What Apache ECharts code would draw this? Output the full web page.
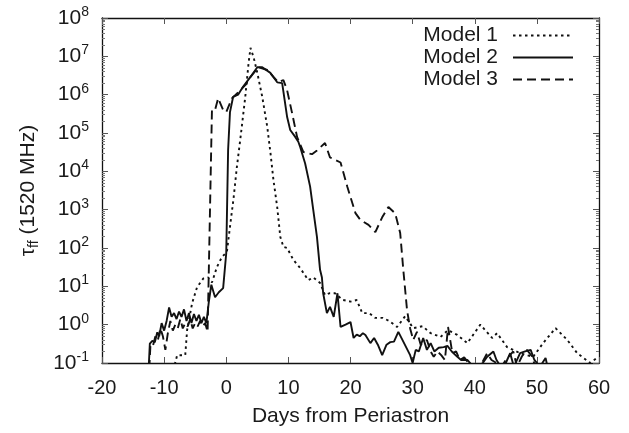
<!DOCTYPE html>
<html>
<head>
<meta charset="utf-8">
<script src="https://cdn.jsdelivr.net/npm/echarts@6/dist/echarts.min.js"></script>
<style>html,body{margin:0;padding:0;background:#fff}#c{width:629px;height:433px}</style>
</head>
<body>
<div id="c"></div>
<script>
// ---- data ----
const seriesNames = ['Model 1', 'Model 2', 'Model 3'];
const xTicks = [-20, -10, 0, 10, 20, 30, 40, 50, 60];
const yTickExponents = [-1, 0, 1, 2, 3, 4, 5, 6, 7, 8];

const m1Days = [-9, -7.9, -6.6, -6.3, -5.5, -4.7, -3.7, -2.9, -2.3, -1.5, -0.7, 0.1, 0.6, 1.2, 1.7, 2.25, 3.06, 3.6, 3.9, 4.4, 5.0, 5.8, 6.6, 7.1, 7.6, 8.2, 8.7, 9.2, 9.8, 10.8, 11.9, 13.2, 14.0, 15.1, 15.9, 16.6, 17.5, 18.0, 18.8, 20.0, 21.0, 21.9, 23.0, 24.0, 25.2, 26.2, 27.5, 28.8, 30.1, 31.6, 32.9, 34.5, 35.7, 37.2, 38.8, 40.9, 42.8, 43.6, 45.2, 47.3, 49.4, 51.0, 53.0, 54.9, 56.5, 58.6, 59.9];
const m1Vals = [0.032, 0.16, 0.16, 0.72, 3.6, 9.5, 16, 17, 12.6, 32, 58, 79, 355, 2140, 12600, 66000, 870000, 6.8e6, 1.66e7, 9.5e6, 3.7e6, 870000, 145000, 32000, 5900, 1170, 195, 107, 100, 49, 30, 14.5, 17, 12.3, 5.9, 6.6, 6.6, 5.6, 4.4, 4.0, 4.4, 2.0, 2.0, 1.5, 1.5, 1.26, 0.87, 1.66, 0.81, 0.91, 0.6, 0.48, 0.72, 0.54, 0.33, 1.0, 0.45, 0.6, 0.26, 0.18, 0.145, 0.33, 0.81, 0.4, 0.18, 0.1, 0.145];

const m2Days = [-12.6, -12.3, -11.9, -11.5, -11.1, -10.8, -10.4, -10.0, -9.6, -9.2, -8.8, -8.4, -8.0, -7.6, -7.2, -6.8, -6.4, -6.0, -5.6, -5.2, -4.8, -4.4, -4.0, -3.6, -3.2, -2.8, -2.4, -1.8, -1.2, -0.5, 0.0, 0.3, 0.6, 1.1, 1.9, 2.7, 3.9, 5.0, 5.8, 7.1, 8.2, 9.0, 9.8, 10.3, 11.1, 11.6, 11.9, 12.7, 13.5, 14.0, 14.6, 15.1, 15.4, 15.6, 16.2, 16.7, 17.3, 17.9, 18.4, 19.2, 20.0, 20.5, 21.0, 21.5, 22.0, 22.4, 23.2, 23.8, 24.4, 25.1, 25.8, 26.4, 27.0, 27.7, 28.5, 29.6, 30.0, 30.5, 31.0, 31.7, 32.3, 32.9, 33.5, 34.2, 35.0, 35.6, 36.3, 37.2, 37.8, 38.8, 39.5, 40.5, 41.3, 42.0, 43.0, 43.5, 44.2, 45.0, 45.7, 46.3, 47.3, 48.1, 49.0, 49.6, 50.5, 51.4, 52.0];
const m2Vals = [0.03, 0.32, 0.38, 0.35, 0.63, 0.5, 1.1, 0.7, 1.25, 2.8, 1.6, 2.0, 1.4, 2.2, 1.6, 2.5, 1.25, 2.0, 1.1, 1.9, 1.25, 1.8, 1.1, 1.6, 1.1, 4.0, 11, 5.2, 7, 9, 74, 36000, 350000, 870000, 1.0e6, 1.6e6, 2.9e6, 5.2e6, 5.2e6, 3.7e6, 2.1e6, 2.0e6, 260000, 120000, 79000, 59000, 43000, 16000, 4000, 1000, 195, 27, 17, 6.6, 2.0, 2.9, 1.6, 6.6, 0.87, 1.0, 1.17, 0.45, 0.55, 0.5, 0.6, 0.54, 0.33, 0.45, 0.3, 0.16, 0.3, 0.35, 0.36, 0.65, 0.36, 0.16, 0.1, 0.22, 0.2, 0.45, 0.22, 0.33, 0.2, 0.25, 0.26, 0.28, 0.2, 0.145, 0.12, 0.12, 0.09, 0.08, 0.1, 0.145, 0.2, 0.12, 0.08, 0.1, 0.18, 0.08, 0.18, 0.2, 0.22, 0.12, 0.08, 0.135, 0.05];

const m3Days = [-12.5, -12.2, -11.8, -11.4, -11.0, -10.6, -10.2, -9.8, -9.4, -9.0, -8.6, -8.2, -7.8, -7.4, -7.0, -6.6, -6.2, -5.8, -5.4, -5.0, -4.6, -4.2, -3.8, -3.4, -3.0, -2.8, -2.3, -1.8, -1.3, -0.5, 0.0, 0.9, 2.25, 3.1, 3.9, 5.2, 6.6, 7.6, 8.4, 9.2, 9.8, 10.6, 11.4, 12.4, 13.8, 14.6, 15.9, 16.7, 18.4, 19.5, 20.8, 21.6, 22.9, 24.0, 25.1, 26.1, 27.2, 28.0, 28.5, 29.1, 29.6, 30.1, 30.7, 31.3, 32.3, 32.9, 33.4, 34.0, 34.6, 35.2, 35.7, 36.4, 37.0, 37.6, 38.3, 39.0, 40.0, 41.0, 42.0, 42.7, 43.5, 44.3, 45.0, 46.2, 46.8, 47.6, 48.4, 49.2, 50.0];
const m3Vals = [0.03, 0.3, 0.28, 0.5, 0.4, 0.8, 0.5, 0.22, 0.6, 1.25, 0.7, 1.0, 0.8, 1.4, 0.8, 1.1, 0.9, 1.4, 0.8, 1.1, 0.9, 1.25, 0.9, 1.1, 0.65, 0.6, 400000, 400000, 810000, 400000, 350000, 800000, 1.3e6, 1.8e6, 2.9e6, 5.2e6, 4.4e6, 2.9e6, 2.1e6, 2.4e6, 1.3e6, 330000, 79000, 32000, 28000, 35000, 55000, 23000, 17000, 3900, 810, 540, 400, 260, 630, 1170, 800, 245, 27, 2.4, 0.8, 0.4, 0.65, 0.3, 0.4, 0.2, 0.145, 0.2, 0.16, 0.12, 0.87, 0.18, 0.2, 0.12, 0.14, 0.1, 0.08, 0.09, 0.18, 0.12, 0.1, 0.08, 0.12, 0.2, 0.08, 0.15, 0.22, 0.15, 0.06];

// ---- chart ----
const FONT = 'Liberation Sans, Arial, Helvetica, sans-serif';
const TXT = '#1a1a1a';
const zip = (xs, ys) => xs.map((x, i) => [x, ys[i]]);
const chart = echarts.init(document.getElementById('c'), null, {renderer: 'canvas'});

const lineStyles = [
  {color: '#111', width: 1.9, type: [2.5, 3.5]},
  {color: '#111', width: 1.9, type: 'solid'},
  {color: '#111', width: 1.9, type: [9, 5]}
];
const datasets = [zip(m1Days, m1Vals), zip(m2Days, m2Vals), zip(m3Days, m3Vals)];

const xMin = xTicks[0], xMax = xTicks[xTicks.length - 1];
const yMin = Math.pow(10, yTickExponents[0]);
const yMax = Math.pow(10, yTickExponents[yTickExponents.length - 1]);

const axisLine = {show: true, onZero: false, lineStyle: {color: '#111', width: 1.3}};
const tick = {show: true, inside: true, length: 6, lineStyle: {color: '#555', width: 1}};
const minor = {show: true, splitNumber: 9, length: 3, lineStyle: {color: '#777', width: 1}};

chart.setOption({
  animation: false,
  backgroundColor: '#fff',
  grid: {left: 102, right: 30, top: 18, bottom: 70, containLabel: false, outerBoundsMode: 'none'},
  legend: {
    data: seriesNames,
    orient: 'vertical',
    align: 'right',
    right: 50,
    top: 20,
    itemWidth: 60,
    itemHeight: 12,
    itemGap: 1,
    itemStyle: {color: 'rgba(0,0,0,0)', borderWidth: 0, opacity: 0},
    textStyle: {fontFamily: FONT, fontSize: 21, lineHeight: 21, color: TXT, padding: [0, 10, 0, 0]}
  },
  xAxis: [
    {
      type: 'value', min: xMin, max: xMax, interval: 10, position: 'bottom',
      name: 'Days from Periastron', nameLocation: 'middle', nameGap: 43,
      nameTextStyle: {fontFamily: FONT, fontSize: 21, color: TXT},
      axisLine: axisLine, axisTick: tick, splitLine: {show: false},
      axisLabel: {fontFamily: FONT, fontSize: 20, color: TXT, margin: 15}
    },
    {
      type: 'value', min: xMin, max: xMax, interval: 10, position: 'top',
      axisLine: axisLine, axisTick: tick, splitLine: {show: false}, axisLabel: {show: false}
    }
  ],
  yAxis: [
    {
      type: 'log', logBase: 10, min: yMin, max: yMax, interval: 1, position: 'left',
      name: '{t|τ}{s|ff}{t| (1520 MHz)}', nameLocation: 'middle', nameGap: 61, nameRotate: 90,
      nameTextStyle: {rich: {
        t: {fontFamily: FONT, fontSize: 21, color: TXT},
        s: {fontFamily: FONT, fontSize: 14, color: TXT, verticalAlign: 'bottom', padding: [12, 0, 0, 0]}
      }},
      axisLine: axisLine, axisTick: tick, minorTick: minor, splitLine: {show: false},
      axisLabel: {
        margin: 13,
        formatter: v => '{b|10}{e|' + Math.round(Math.log10(v)) + '}',
        rich: {
          b: {fontFamily: FONT, fontSize: 21, color: TXT},
          e: {fontFamily: FONT, fontSize: 14, color: TXT, verticalAlign: 'top', padding: [0, 0, 12, 0]}
        }
      }
    },
    {
      type: 'log', logBase: 10, min: yMin, max: yMax, interval: 1, position: 'right',
      axisLine: axisLine, axisTick: tick, minorTick: minor, splitLine: {show: false}, axisLabel: {show: false}
    }
  ],
  series: seriesNames.map((n, i) => ({
    name: n, type: 'line', data: datasets[i], xAxisIndex: 0, yAxisIndex: 0,
    showSymbol: false, symbol: 'none', clip: true,
    lineStyle: lineStyles[i], itemStyle: {color: '#111'}
  }))
});
</script>
</body>
</html>
